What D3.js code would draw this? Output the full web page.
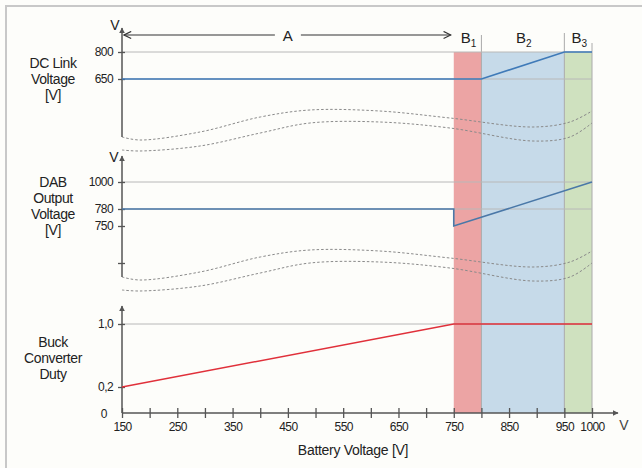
<!DOCTYPE html>
<html>
<head>
<meta charset="utf-8">
<script src="https://d3js.org/d3.v7.min.js"></script>
<style>
  body { margin: 0; background: #fdfdfa; }
  svg { display: block; font-family: "Liberation Sans", Arial, sans-serif; }
</style>
</head>
<body>
<svg id="chart" width="642" height="468"></svg>
<script>
// battery voltage axis
const xTicks = [150, 200, 250, 300, 350, 400, 450, 500, 550, 600, 650, 700, 750, 800, 850, 900, 950, 1000];
const xLabels = [150, 250, 350, 450, 550, 650, 750, 850, 950, 1000];

// operating regions
const regions = [
  { name: "B", sub: "1", from: 750, to: 800, color: "#eca4a4" },
  { name: "B", sub: "2", from: 800, to: 950, color: "#c6dae9" },
  { name: "B", sub: "3", from: 950, to: 1000, color: "#cfe1bf" }
];
const regionA = [150, 750];

// DC link voltage
const dcTicks = [650, 800];
const dcVolt = [150, 800, 950, 1000];
const dcLink = [650, 650, 800, 800];

// DAB output voltage
const dabTicks = [600, 750, 780, 1000];
const dabTickLabels = ["", "750", "780", "1000"];
const dabGrid = [780, 1000];
const dabVolt = [150, 750, 750, 1000];
const dabOut = [780, 780, 750, 1000];

// buck converter duty
const dutyTicks = [0, 0.2, 1.0];
const dutyTickLabels = ["0", "0,2", "1,0"];
const dutyVolt = [150, 750, 1000];
const duty = [0.2, 1.0, 1.0];

// axis break waves (volts, px offset)
const waveVolt = [150, 182, 291, 400, 490, 616, 743, 893, 960, 1000];
const waveUpper = [0, 3, -5, -20, -27, -26, -19, -10, -15, -26];
const waveLower = [13, 14, 9, -4, -14, -15, -9, 4, 0, -14];

const svg = d3.select("#chart");
const axisColor = "#555";
const gridColor = "#b8b8b8";

// frame
svg.append("path").attr("d", "M6,468V6H642").attr("fill", "none")
  .attr("stroke", "#c8c8c8").attr("stroke-width", 2);

const x = d3.scaleLinear().domain([150, 1000]).range([122, 592]);
const yDC = d3.scaleLinear().domain([650, 800]).range([79, 52]);
const yDAB = d3.scaleLinear().domain([600, 750, 780, 1000]).range([263, 226, 209, 182]);
const yDuty = d3.scaleLinear().domain([0, 0.2, 1.0]).range([413, 387, 324]);

// region shading
svg.append("g").selectAll("rect").data(regions).join("rect")
  .attr("x", d => x(d.from)).attr("width", d => x(d.to) - x(d.from))
  .attr("y", yDC(800)).attr("height", yDuty(0) - yDC(800))
  .attr("fill", d => d.color);

// region dividers
const divs = [[800, 35], [950, 33], [1000, 43]];
svg.append("g").selectAll("line").data(divs).join("line")
  .attr("x1", d => x(d[0])).attr("x2", d => x(d[0]))
  .attr("y1", d => d[1]).attr("y2", yDuty(0))
  .attr("stroke", "#aaa").attr("stroke-width", 1);

// region labels
const rl = svg.append("g").selectAll("text").data(regions).join("text")
  .attr("x", d => (x(d.from) + x(d.to)) / 2 + 1).attr("y", 43)
  .attr("text-anchor", "middle").attr("font-size", 15).attr("fill", "#222");
rl.append("tspan").text(d => d.name);
rl.append("tspan").attr("font-size", 10).attr("dy", 4).text(d => d.sub);

// arrow marker
const defs = svg.append("defs");
defs.append("marker").attr("id", "open").attr("viewBox", "0 0 10 10")
  .attr("refX", 9).attr("refY", 5).attr("markerWidth", 9).attr("markerHeight", 9)
  .attr("orient", "auto-start-reverse").attr("markerUnits", "userSpaceOnUse")
  .append("path").attr("d", "M1,1L9,5L1,9").attr("fill", "none").attr("stroke", "#333").attr("stroke-width", 1.3);
defs.append("marker").attr("id", "tri").attr("viewBox", "0 0 10 10")
  .attr("refX", 9).attr("refY", 5).attr("markerWidth", 6).attr("markerHeight", 6)
  .attr("orient", "auto").attr("markerUnits", "userSpaceOnUse")
  .append("path").attr("d", "M0,0L10,5L0,10Z").attr("fill", axisColor);

// region A arrow
const aMid = (x(regionA[0]) + x(regionA[1])) / 2;
svg.append("line").attr("x1", x(regionA[0]) + 2).attr("x2", aMid - 13).attr("y1", 35).attr("y2", 35)
  .attr("stroke", "#333").attr("stroke-width", 1.2).attr("marker-start", "url(#open)");
svg.append("line").attr("x1", aMid + 13).attr("x2", x(regionA[1]) - 3).attr("y1", 35).attr("y2", 35)
  .attr("stroke", "#333").attr("stroke-width", 1.2).attr("marker-end", "url(#open)");
svg.append("text").attr("x", aMid).attr("y", 41).attr("text-anchor", "middle")
  .attr("font-size", 15).attr("fill", "#222").text("A");

// gridlines
function grid(vals, y) {
  svg.append("g").selectAll("line").data(vals).join("line")
    .attr("x1", x(150)).attr("x2", x(1000)).attr("y1", d => y(d)).attr("y2", d => y(d))
    .attr("stroke", gridColor).attr("stroke-width", 1);
}
grid(dcTicks, yDC);
grid(dabGrid, yDAB);
grid([1.0], yDuty);

// break waves
const wave = d3.line().curve(d3.curveCatmullRom);
function breaks(base) {
  [waveUpper, waveLower].forEach(off => {
    svg.append("path")
      .attr("d", wave(waveVolt.map((v, i) => [x(v), base + off[i]])))
      .attr("fill", "none").attr("stroke", "#8a8a8a").attr("stroke-width", 1)
      .attr("stroke-dasharray", "2.5,2");
  });
}
breaks(137);
breaks(277);

// y axes
function yAxis(y, ticks, labels, top, bottom) {
  svg.append("line").attr("x1", x(150)).attr("x2", x(150)).attr("y1", bottom).attr("y2", top)
    .attr("stroke", axisColor).attr("stroke-width", 1.5).attr("marker-end", "url(#tri)");
  const g = svg.append("g").attr("transform", `translate(${x(150)},0)`)
    .call(d3.axisLeft(y).tickValues(ticks).tickSize(4).tickFormat((d, i) => labels[i]));
  g.select(".domain").remove();
  g.selectAll(".tick line").attr("x1", -4).attr("x2", 3).attr("stroke", axisColor).attr("stroke-width", 1.3);
  g.selectAll(".tick text").attr("x", -9).attr("font-size", 12).attr("letter-spacing", -0.6)
    .attr("fill", "#222").attr("font-family", "Liberation Sans, Arial, sans-serif");
}
yAxis(yDC, dcTicks, dcTicks.map(String), 28, 137);
yAxis(yDAB, dabTicks, dabTickLabels, 156, 277);
yAxis(yDuty, dutyTicks.slice(1), dutyTickLabels.slice(1), 306, 413);

// "V" unit labels
svg.append("text").attr("x", 115).attr("y", 30).attr("text-anchor", "middle").attr("font-size", 14).attr("fill", "#222").text("V");
svg.append("text").attr("x", 114).attr("y", 162).attr("text-anchor", "middle").attr("font-size", 14).attr("fill", "#222").text("V");
svg.append("text").attr("x", 104).attr("y", 418).attr("text-anchor", "middle").attr("font-size", 12).attr("fill", "#222").text(dutyTickLabels[0]);

// x axis
svg.append("line").attr("x1", x(150)).attr("x2", 618).attr("y1", yDuty(0)).attr("y2", yDuty(0))
  .attr("stroke", axisColor).attr("stroke-width", 1.5).attr("marker-end", "url(#tri)");
const xg = svg.append("g").attr("transform", `translate(0,${yDuty(0)})`)
  .call(d3.axisBottom(x).tickValues(xTicks).tickSize(5)
    .tickFormat(d => xLabels.includes(d) ? d : ""));
xg.select(".domain").remove();
xg.selectAll(".tick line").attr("y1", -5).attr("y2", 5).attr("stroke", axisColor).attr("stroke-width", 1.3);
xg.selectAll(".tick text").attr("y", 9).attr("font-size", 12).attr("letter-spacing", -0.6)
  .attr("fill", "#222").attr("font-family", "Liberation Sans, Arial, sans-serif");
svg.append("text").attr("x", 624).attr("y", 430).attr("text-anchor", "middle").attr("font-size", 14).attr("fill", "#444").text("V");
svg.append("text").attr("x", 353).attr("y", 455).attr("text-anchor", "middle").attr("font-size", 14)
  .attr("letter-spacing", -0.3).attr("fill", "#222").text("Battery Voltage [V]");

// series lines
const line = d3.line();
svg.append("path").attr("d", line(dcVolt.map((v, i) => [x(v), yDC(dcLink[i])])))
  .attr("fill", "none").attr("stroke", "#3f7ab8").attr("stroke-width", 1.6);
svg.append("path").attr("d", line(dabVolt.map((v, i) => [x(v), yDAB(dabOut[i])])))
  .attr("fill", "none").attr("stroke", "#4a78a8").attr("stroke-width", 1.6);
svg.append("path").attr("d", line(dutyVolt.map((v, i) => [x(v), yDuty(duty[i])])))
  .attr("fill", "none").attr("stroke", "#e0303a").attr("stroke-width", 1.4);

// panel titles
const titles = [
  { lines: ["DC Link", "Voltage", "[V]"], y: 68 },
  { lines: ["DAB", "Output", "Voltage", "[V]"], y: 187 },
  { lines: ["Buck", "Converter", "Duty"], y: 347 }
];
titles.forEach(t => {
  svg.append("text").attr("x", 53).attr("y", t.y).attr("text-anchor", "middle")
    .attr("font-size", 14).attr("letter-spacing", -0.4).attr("fill", "#222")
    .selectAll("tspan").data(t.lines).join("tspan")
    .attr("x", 53).attr("dy", (d, i) => i ? 16 : 0).text(d => d);
});
</script>
</body>
</html>
